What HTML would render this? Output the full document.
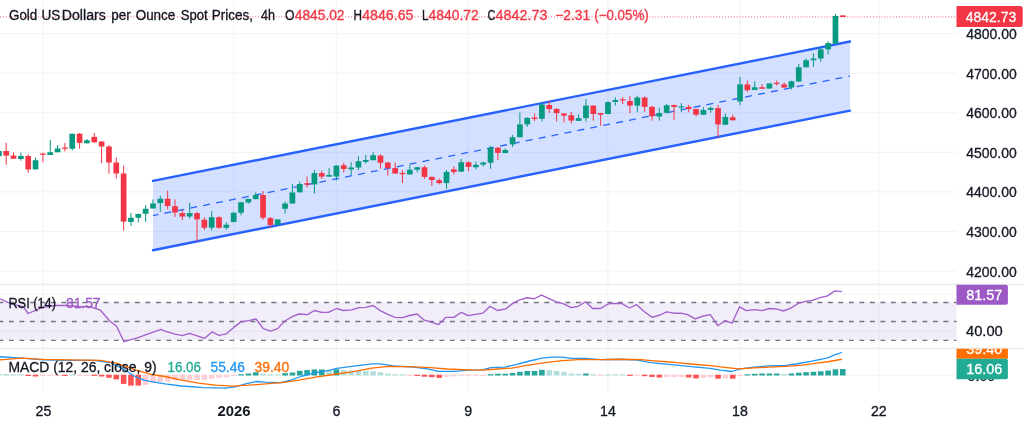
<!DOCTYPE html>
<html lang="en">
<head>
<meta charset="utf-8">
<title>Gold US Dollars per Ounce Spot Prices, 4h</title>
<style>
html,body{margin:0;padding:0;background:#fff;}
body{width:1024px;height:424px;overflow:hidden;}
svg{display:block;}
svg text{font-family:"Liberation Sans","DejaVu Sans",sans-serif;font-size:14px;color:#131722;fill:currentColor;stroke:currentColor;stroke-width:0.3px;}
</style>
</head>
<body>
<svg width="1024" height="424" viewBox="0 0 1024 424">
<rect x="0" y="0" width="1024" height="424" fill="#ffffff"/>
<!-- grid -->
<rect x="0" y="33.00" width="956.5" height="1.2" fill="#f3f5f5"/>
<rect x="0" y="72.60" width="956.5" height="1.2" fill="#f3f5f5"/>
<rect x="0" y="112.10" width="956.5" height="1.2" fill="#f3f5f5"/>
<rect x="0" y="151.70" width="956.5" height="1.2" fill="#f3f5f5"/>
<rect x="0" y="191.30" width="956.5" height="1.2" fill="#f3f5f5"/>
<rect x="0" y="230.90" width="956.5" height="1.2" fill="#f3f5f5"/>
<rect x="0" y="270.50" width="956.5" height="1.2" fill="#f3f5f5"/>
<rect x="0" y="293.70" width="956.5" height="1.2" fill="#f3f5f5"/>
<rect x="0" y="330.50" width="956.5" height="1.2" fill="#f3f5f5"/>
<rect x="0" y="374.70" width="956.5" height="1.2" fill="#f3f5f5"/>
<rect x="42.70" y="0" width="1.2" height="392.5" fill="#f3f5f5"/>
<rect x="233.00" y="0" width="1.2" height="392.5" fill="#f3f5f5"/>
<rect x="335.60" y="0" width="1.2" height="392.5" fill="#f3f5f5"/>
<rect x="467.60" y="0" width="1.2" height="392.5" fill="#f3f5f5"/>
<rect x="607.30" y="0" width="1.2" height="392.5" fill="#f3f5f5"/>
<rect x="739.20" y="0" width="1.2" height="392.5" fill="#f3f5f5"/>
<rect x="878.50" y="0" width="1.2" height="392.5" fill="#f3f5f5"/>
<!-- pane separators -->
<rect x="0" y="283.7" width="1024" height="1" fill="#e0e3eb"/>
<rect x="0" y="347.7" width="1024" height="1" fill="#e0e3eb"/>
<!-- channel -->
<polygon points="153,180.9 850,41.5 850,110.6 153,250.2" fill="#2962ff" fill-opacity="0.2"/>
<line x1="153" y1="215.55" x2="850" y2="76.05" stroke="#2962ff" stroke-width="1.3" stroke-dasharray="7 6.16" stroke-dashoffset="1.5"/>
<line x1="153" y1="180.9" x2="850" y2="41.5" stroke="#2962ff" stroke-width="2.4" stroke-linecap="round"/>
<line x1="153" y1="250.2" x2="850" y2="110.6" stroke="#2962ff" stroke-width="2.4" stroke-linecap="round"/>
<!-- last price dotted line -->
<line x1="0" y1="16.9" x2="956.5" y2="16.9" stroke="#f23645" stroke-opacity="0.8" stroke-width="1" stroke-dasharray="1 1.9"/>
<!-- candles -->
<rect x="-1.64" y="151.00" width="1" height="5.25" fill="#089981"/><rect x="-3.99" y="151.00" width="5.7" height="5.25" fill="#089981"/>
<rect x="5.70" y="142.90" width="1" height="21.85" fill="#f23645"/><rect x="3.35" y="151.00" width="5.7" height="4.60" fill="#f23645"/>
<rect x="13.04" y="152.25" width="1" height="6.75" fill="#f23645"/><rect x="10.69" y="155.60" width="5.7" height="3.15" fill="#f23645"/>
<rect x="20.38" y="152.50" width="1" height="8.10" fill="#089981"/><rect x="18.03" y="156.00" width="5.7" height="3.00" fill="#089981"/>
<rect x="27.72" y="154.40" width="1" height="18.35" fill="#f23645"/><rect x="25.37" y="156.00" width="5.7" height="13.40" fill="#f23645"/>
<rect x="35.05" y="157.50" width="1" height="11.90" fill="#089981"/><rect x="32.70" y="160.25" width="5.7" height="9.15" fill="#089981"/>
<rect x="42.39" y="152.75" width="1" height="9.50" fill="#f23645"/><rect x="40.04" y="153.50" width="5.7" height="1.25" fill="#f23645"/>
<rect x="49.73" y="140.00" width="1" height="15.00" fill="#089981"/><rect x="47.38" y="152.25" width="5.7" height="2.75" fill="#089981"/>
<rect x="57.07" y="145.00" width="1" height="7.25" fill="#089981"/><rect x="54.72" y="148.50" width="5.7" height="3.75" fill="#089981"/>
<rect x="64.41" y="143.00" width="1" height="8.50" fill="#f23645"/><rect x="62.06" y="147.50" width="5.7" height="1.25" fill="#f23645"/>
<rect x="71.75" y="133.75" width="1" height="16.65" fill="#089981"/><rect x="69.40" y="133.75" width="5.7" height="15.00" fill="#089981"/>
<rect x="79.08" y="133.00" width="1" height="15.75" fill="#f23645"/><rect x="76.73" y="133.75" width="5.7" height="9.15" fill="#f23645"/>
<rect x="86.42" y="139.00" width="1" height="4.50" fill="#089981"/><rect x="84.07" y="140.25" width="5.7" height="3.00" fill="#089981"/>
<rect x="93.76" y="133.00" width="1" height="9.90" fill="#f23645"/><rect x="91.41" y="136.90" width="5.7" height="5.35" fill="#f23645"/>
<rect x="101.10" y="141.25" width="1" height="21.85" fill="#f23645"/><rect x="98.75" y="141.50" width="5.7" height="5.00" fill="#f23645"/>
<rect x="108.44" y="145.00" width="1" height="28.75" fill="#f23645"/><rect x="106.09" y="146.50" width="5.7" height="16.00" fill="#f23645"/>
<rect x="115.78" y="157.50" width="1" height="21.00" fill="#f23645"/><rect x="113.43" y="162.50" width="5.7" height="11.00" fill="#f23645"/>
<rect x="123.12" y="165.60" width="1" height="65.00" fill="#f23645"/><rect x="120.77" y="173.50" width="5.7" height="48.10" fill="#f23645"/>
<rect x="130.45" y="213.10" width="1" height="12.90" fill="#089981"/><rect x="128.10" y="217.75" width="5.7" height="4.15" fill="#089981"/>
<rect x="137.79" y="213.50" width="1" height="9.00" fill="#089981"/><rect x="135.44" y="214.00" width="5.7" height="3.75" fill="#089981"/>
<rect x="145.13" y="205.00" width="1" height="16.90" fill="#089981"/><rect x="142.78" y="208.75" width="5.7" height="5.00" fill="#089981"/>
<rect x="152.47" y="199.40" width="1" height="9.10" fill="#089981"/><rect x="150.12" y="203.50" width="5.7" height="5.00" fill="#089981"/>
<rect x="159.81" y="195.60" width="1" height="16.30" fill="#089981"/><rect x="157.46" y="198.75" width="5.7" height="4.35" fill="#089981"/>
<rect x="167.15" y="190.60" width="1" height="18.80" fill="#f23645"/><rect x="164.80" y="198.75" width="5.7" height="7.25" fill="#f23645"/>
<rect x="174.49" y="199.40" width="1" height="17.50" fill="#f23645"/><rect x="172.14" y="206.25" width="5.7" height="6.25" fill="#f23645"/>
<rect x="181.82" y="209.75" width="1" height="10.25" fill="#f23645"/><rect x="179.47" y="213.10" width="5.7" height="3.40" fill="#f23645"/>
<rect x="189.16" y="202.75" width="1" height="15.75" fill="#089981"/><rect x="186.81" y="213.10" width="5.7" height="3.40" fill="#089981"/>
<rect x="196.50" y="211.90" width="1" height="29.60" fill="#f23645"/><rect x="194.15" y="213.10" width="5.7" height="6.30" fill="#f23645"/>
<rect x="203.84" y="217.25" width="1" height="12.75" fill="#f23645"/><rect x="201.49" y="219.75" width="5.7" height="8.00" fill="#f23645"/>
<rect x="211.18" y="211.00" width="1" height="19.60" fill="#089981"/><rect x="208.83" y="217.25" width="5.7" height="10.50" fill="#089981"/>
<rect x="218.52" y="216.25" width="1" height="12.50" fill="#f23645"/><rect x="216.17" y="217.25" width="5.7" height="10.50" fill="#f23645"/>
<rect x="225.85" y="222.25" width="1" height="7.50" fill="#089981"/><rect x="223.50" y="224.75" width="5.7" height="3.00" fill="#089981"/>
<rect x="233.19" y="211.90" width="1" height="10.35" fill="#089981"/><rect x="230.84" y="212.75" width="5.7" height="9.25" fill="#089981"/>
<rect x="240.53" y="201.90" width="1" height="13.35" fill="#089981"/><rect x="238.18" y="202.25" width="5.7" height="10.50" fill="#089981"/>
<rect x="247.87" y="198.75" width="1" height="4.75" fill="#089981"/><rect x="245.52" y="199.00" width="5.7" height="3.50" fill="#089981"/>
<rect x="255.21" y="192.50" width="1" height="6.90" fill="#089981"/><rect x="252.86" y="195.00" width="5.7" height="4.10" fill="#089981"/>
<rect x="262.55" y="191.00" width="1" height="28.75" fill="#f23645"/><rect x="260.20" y="195.00" width="5.7" height="22.75" fill="#f23645"/>
<rect x="269.89" y="216.90" width="1" height="11.20" fill="#f23645"/><rect x="267.54" y="218.10" width="5.7" height="6.90" fill="#f23645"/>
<rect x="277.22" y="219.40" width="1" height="5.60" fill="#089981"/><rect x="274.87" y="219.40" width="5.7" height="5.60" fill="#089981"/>
<rect x="284.56" y="201.50" width="1" height="12.00" fill="#089981"/><rect x="282.21" y="203.50" width="5.7" height="5.25" fill="#089981"/>
<rect x="291.90" y="184.00" width="1" height="19.50" fill="#089981"/><rect x="289.55" y="192.50" width="5.7" height="11.00" fill="#089981"/>
<rect x="299.24" y="181.50" width="1" height="11.25" fill="#089981"/><rect x="296.89" y="184.00" width="5.7" height="8.25" fill="#089981"/>
<rect x="306.58" y="176.50" width="1" height="11.00" fill="#f23645"/><rect x="304.23" y="183.10" width="5.7" height="1.65" fill="#f23645"/>
<rect x="313.92" y="170.00" width="1" height="23.50" fill="#089981"/><rect x="311.57" y="173.10" width="5.7" height="11.30" fill="#089981"/>
<rect x="321.26" y="170.60" width="1" height="8.40" fill="#f23645"/><rect x="318.91" y="173.10" width="5.7" height="3.50" fill="#f23645"/>
<rect x="328.59" y="168.10" width="1" height="8.80" fill="#089981"/><rect x="326.24" y="175.00" width="5.7" height="1.60" fill="#089981"/>
<rect x="335.93" y="165.25" width="1" height="15.35" fill="#089981"/><rect x="333.58" y="165.60" width="5.7" height="10.90" fill="#089981"/>
<rect x="343.27" y="162.75" width="1" height="9.75" fill="#f23645"/><rect x="340.92" y="165.25" width="5.7" height="3.75" fill="#f23645"/>
<rect x="350.61" y="162.25" width="1" height="12.75" fill="#089981"/><rect x="348.26" y="167.50" width="5.7" height="1.90" fill="#089981"/>
<rect x="357.95" y="156.25" width="1" height="14.00" fill="#089981"/><rect x="355.60" y="161.25" width="5.7" height="6.25" fill="#089981"/>
<rect x="365.29" y="155.00" width="1" height="8.50" fill="#089981"/><rect x="362.94" y="160.00" width="5.7" height="1.90" fill="#089981"/>
<rect x="372.62" y="152.25" width="1" height="8.00" fill="#089981"/><rect x="370.27" y="155.25" width="5.7" height="5.00" fill="#089981"/>
<rect x="379.96" y="154.40" width="1" height="14.35" fill="#f23645"/><rect x="377.61" y="155.60" width="5.7" height="7.15" fill="#f23645"/>
<rect x="387.30" y="162.25" width="1" height="13.35" fill="#f23645"/><rect x="384.95" y="162.50" width="5.7" height="5.60" fill="#f23645"/>
<rect x="394.64" y="162.50" width="1" height="11.25" fill="#f23645"/><rect x="392.29" y="168.10" width="5.7" height="5.40" fill="#f23645"/>
<rect x="401.98" y="170.00" width="1" height="13.10" fill="#f23645"/><rect x="399.63" y="172.90" width="5.7" height="1.30" fill="#f23645"/>
<rect x="409.32" y="165.00" width="1" height="9.75" fill="#089981"/><rect x="406.97" y="169.75" width="5.7" height="4.65" fill="#089981"/>
<rect x="416.66" y="166.90" width="1" height="5.35" fill="#089981"/><rect x="414.31" y="167.25" width="5.7" height="2.50" fill="#089981"/>
<rect x="423.99" y="165.60" width="1" height="13.15" fill="#f23645"/><rect x="421.64" y="167.25" width="5.7" height="9.65" fill="#f23645"/>
<rect x="431.33" y="176.50" width="1" height="9.50" fill="#f23645"/><rect x="428.98" y="176.90" width="5.7" height="3.10" fill="#f23645"/>
<rect x="438.67" y="178.50" width="1" height="5.90" fill="#f23645"/><rect x="436.32" y="180.25" width="5.7" height="2.85" fill="#f23645"/>
<rect x="446.01" y="170.00" width="1" height="19.00" fill="#089981"/><rect x="443.66" y="171.90" width="5.7" height="11.20" fill="#089981"/>
<rect x="453.35" y="166.25" width="1" height="8.15" fill="#f23645"/><rect x="451.00" y="169.40" width="5.7" height="2.50" fill="#f23645"/>
<rect x="460.69" y="158.75" width="1" height="13.15" fill="#089981"/><rect x="458.34" y="162.25" width="5.7" height="9.35" fill="#089981"/>
<rect x="468.03" y="161.50" width="1" height="9.75" fill="#f23645"/><rect x="465.68" y="162.25" width="5.7" height="4.65" fill="#f23645"/>
<rect x="475.36" y="161.50" width="1" height="7.90" fill="#089981"/><rect x="473.01" y="164.75" width="5.7" height="2.50" fill="#089981"/>
<rect x="482.70" y="161.50" width="1" height="5.10" fill="#089981"/><rect x="480.35" y="162.50" width="5.7" height="2.10" fill="#089981"/>
<rect x="490.04" y="145.60" width="1" height="23.15" fill="#089981"/><rect x="487.69" y="147.75" width="5.7" height="15.00" fill="#089981"/>
<rect x="497.38" y="146.90" width="1" height="13.10" fill="#f23645"/><rect x="495.03" y="147.75" width="5.7" height="5.15" fill="#f23645"/>
<rect x="504.72" y="148.50" width="1" height="4.60" fill="#089981"/><rect x="502.37" y="150.00" width="5.7" height="3.10" fill="#089981"/>
<rect x="512.06" y="135.00" width="1" height="11.90" fill="#089981"/><rect x="509.71" y="137.25" width="5.7" height="7.15" fill="#089981"/>
<rect x="519.39" y="112.50" width="1" height="25.00" fill="#089981"/><rect x="517.04" y="124.40" width="5.7" height="12.85" fill="#089981"/>
<rect x="526.73" y="117.25" width="1" height="9.65" fill="#089981"/><rect x="524.38" y="117.90" width="5.7" height="6.50" fill="#089981"/>
<rect x="534.07" y="113.50" width="1" height="7.50" fill="#f23645"/><rect x="531.72" y="117.50" width="5.7" height="1.50" fill="#f23645"/>
<rect x="541.41" y="101.90" width="1" height="19.60" fill="#089981"/><rect x="539.06" y="104.40" width="5.7" height="14.35" fill="#089981"/>
<rect x="548.75" y="100.60" width="1" height="12.15" fill="#f23645"/><rect x="546.40" y="105.00" width="5.7" height="4.00" fill="#f23645"/>
<rect x="556.09" y="108.10" width="1" height="13.40" fill="#f23645"/><rect x="553.74" y="109.00" width="5.7" height="4.10" fill="#f23645"/>
<rect x="563.43" y="113.10" width="1" height="9.40" fill="#f23645"/><rect x="561.08" y="113.50" width="5.7" height="2.10" fill="#f23645"/>
<rect x="570.76" y="111.90" width="1" height="11.60" fill="#f23645"/><rect x="568.41" y="115.25" width="5.7" height="5.35" fill="#f23645"/>
<rect x="578.10" y="114.40" width="1" height="6.60" fill="#089981"/><rect x="575.75" y="118.10" width="5.7" height="2.80" fill="#089981"/>
<rect x="585.44" y="99.00" width="1" height="22.50" fill="#089981"/><rect x="583.09" y="105.60" width="5.7" height="12.50" fill="#089981"/>
<rect x="592.78" y="105.25" width="1" height="15.35" fill="#f23645"/><rect x="590.43" y="105.60" width="5.7" height="8.40" fill="#f23645"/>
<rect x="600.12" y="113.10" width="1" height="12.50" fill="#f23645"/><rect x="597.77" y="113.10" width="5.7" height="1.65" fill="#f23645"/>
<rect x="607.46" y="101.25" width="1" height="13.15" fill="#089981"/><rect x="605.11" y="102.10" width="5.7" height="11.90" fill="#089981"/>
<rect x="614.80" y="97.25" width="1" height="8.35" fill="#089981"/><rect x="612.45" y="100.00" width="5.7" height="1.90" fill="#089981"/>
<rect x="622.13" y="97.25" width="1" height="6.75" fill="#f23645"/><rect x="619.78" y="99.30" width="5.7" height="1.20" fill="#f23645"/>
<rect x="629.47" y="96.00" width="1" height="17.10" fill="#f23645"/><rect x="627.12" y="101.00" width="5.7" height="4.60" fill="#f23645"/>
<rect x="636.81" y="95.60" width="1" height="16.65" fill="#089981"/><rect x="634.46" y="97.50" width="5.7" height="8.10" fill="#089981"/>
<rect x="644.15" y="96.50" width="1" height="15.40" fill="#f23645"/><rect x="641.80" y="97.50" width="5.7" height="9.40" fill="#f23645"/>
<rect x="651.49" y="105.60" width="1" height="15.00" fill="#f23645"/><rect x="649.14" y="106.90" width="5.7" height="9.35" fill="#f23645"/>
<rect x="658.83" y="107.75" width="1" height="12.85" fill="#089981"/><rect x="656.48" y="113.10" width="5.7" height="3.40" fill="#089981"/>
<rect x="666.17" y="103.75" width="1" height="10.00" fill="#089981"/><rect x="663.82" y="105.25" width="5.7" height="7.50" fill="#089981"/>
<rect x="673.50" y="104.75" width="1" height="15.25" fill="#f23645"/><rect x="671.15" y="105.00" width="5.7" height="1.90" fill="#f23645"/>
<rect x="680.84" y="103.10" width="1" height="9.15" fill="#089981"/><rect x="678.49" y="106.25" width="5.7" height="1.25" fill="#089981"/>
<rect x="688.18" y="104.75" width="1" height="7.50" fill="#f23645"/><rect x="685.83" y="106.90" width="5.7" height="2.10" fill="#f23645"/>
<rect x="695.52" y="108.75" width="1" height="7.50" fill="#f23645"/><rect x="693.17" y="109.00" width="5.7" height="5.75" fill="#f23645"/>
<rect x="702.86" y="107.25" width="1" height="7.50" fill="#089981"/><rect x="700.51" y="110.00" width="5.7" height="4.75" fill="#089981"/>
<rect x="710.20" y="106.50" width="1" height="6.25" fill="#089981"/><rect x="707.85" y="107.90" width="5.7" height="2.10" fill="#089981"/>
<rect x="717.53" y="105.00" width="1" height="32.50" fill="#f23645"/><rect x="715.18" y="108.10" width="5.7" height="16.30" fill="#f23645"/>
<rect x="724.87" y="113.50" width="1" height="11.50" fill="#089981"/><rect x="722.52" y="116.90" width="5.7" height="7.85" fill="#089981"/>
<rect x="732.21" y="114.75" width="1" height="5.85" fill="#f23645"/><rect x="729.86" y="117.25" width="5.7" height="3.00" fill="#f23645"/>
<rect x="739.55" y="76.90" width="1" height="28.10" fill="#089981"/><rect x="737.20" y="84.40" width="5.7" height="17.10" fill="#089981"/>
<rect x="746.89" y="80.60" width="1" height="11.30" fill="#f23645"/><rect x="744.54" y="84.40" width="5.7" height="5.85" fill="#f23645"/>
<rect x="754.23" y="81.25" width="1" height="9.00" fill="#089981"/><rect x="751.88" y="87.25" width="5.7" height="2.75" fill="#089981"/>
<rect x="761.57" y="84.00" width="1" height="4.75" fill="#f23645"/><rect x="759.22" y="87.25" width="5.7" height="1.50" fill="#f23645"/>
<rect x="768.90" y="83.10" width="1" height="5.65" fill="#089981"/><rect x="766.55" y="83.50" width="5.7" height="5.00" fill="#089981"/>
<rect x="776.24" y="80.60" width="1" height="5.00" fill="#f23645"/><rect x="773.89" y="82.75" width="5.7" height="1.25" fill="#f23645"/>
<rect x="783.58" y="82.25" width="1" height="5.50" fill="#f23645"/><rect x="781.23" y="84.40" width="5.7" height="3.10" fill="#f23645"/>
<rect x="790.92" y="80.60" width="1" height="8.80" fill="#089981"/><rect x="788.57" y="81.25" width="5.7" height="6.25" fill="#089981"/>
<rect x="798.26" y="64.00" width="1" height="17.90" fill="#089981"/><rect x="795.91" y="67.25" width="5.7" height="14.25" fill="#089981"/>
<rect x="805.60" y="58.50" width="1" height="9.00" fill="#089981"/><rect x="803.25" y="60.25" width="5.7" height="7.00" fill="#089981"/>
<rect x="812.94" y="53.10" width="1" height="13.80" fill="#089981"/><rect x="810.59" y="58.50" width="5.7" height="1.75" fill="#089981"/>
<rect x="820.27" y="47.50" width="1" height="14.40" fill="#089981"/><rect x="817.92" y="49.40" width="5.7" height="9.10" fill="#089981"/>
<rect x="827.61" y="41.25" width="1" height="13.15" fill="#089981"/><rect x="825.26" y="43.10" width="5.7" height="6.30" fill="#089981"/>
<rect x="834.95" y="14.00" width="1" height="29.75" fill="#089981"/><rect x="832.60" y="16.00" width="5.7" height="27.75" fill="#089981"/>
<rect x="842.29" y="15.50" width="1" height="1.50" fill="#f23645"/><rect x="839.94" y="15.40" width="5.7" height="1.60" fill="#f23645"/>
<!-- RSI -->
<rect x="0" y="302.3" width="956.5" height="37.7" fill="#7e57c2" fill-opacity="0.1"/>
<g stroke="#73767f" stroke-width="1.3" stroke-dasharray="4.9 5.6">
<line x1="-1.6" y1="302.5" x2="956.5" y2="302.5"/>
<line x1="-1.6" y1="321.5" x2="956.5" y2="321.5"/>
<line x1="-1.6" y1="340.4" x2="956.5" y2="340.4"/>
</g>
<polyline points="0.00,298.80 8.40,302.60 16.75,305.10 23.50,306.80 28.10,313.50 41.90,307.60 55.30,305.50 67.00,305.50 78.70,306.50 90.50,306.80 100.50,310.20 109.70,321.00 116.40,326.00 124.00,341.60 137.40,337.80 160.80,329.40 165.00,331.10 174.20,333.90 182.25,335.60 189.60,333.30 204.70,338.30 211.90,331.90 219.10,335.30 226.10,333.90 233.70,327.40 240.90,321.90 248.75,320.70 256.00,319.00 263.30,328.60 270.50,331.10 277.60,328.60 284.75,321.00 291.80,316.85 299.00,314.00 307.40,314.70 314.60,310.50 321.60,312.30 328.30,312.30 336.40,308.50 343.40,310.50 351.80,309.80 358.80,307.60 366.00,307.30 373.00,305.50 380.25,310.65 387.80,314.30 395.00,317.35 402.40,317.70 409.60,315.50 417.10,314.00 424.30,320.20 431.30,322.20 438.50,324.55 445.90,317.35 454.00,317.35 461.20,312.30 468.20,315.70 475.40,314.30 482.80,313.20 490.00,306.30 497.50,310.50 505.90,308.80 513.10,303.10 519.80,299.80 526.80,297.75 534.40,298.75 541.40,295.10 548.60,298.40 556.10,301.80 563.70,303.80 571.20,307.60 578.25,306.30 585.50,301.80 592.70,308.50 600.50,308.50 608.40,303.95 614.80,303.45 621.50,303.45 629.50,308.00 636.50,304.60 644.10,311.50 652.10,317.35 660.00,315.00 666.70,311.80 673.70,313.20 680.90,313.20 687.60,314.70 695.20,318.85 703.20,316.00 710.25,314.70 717.80,325.70 725.00,320.70 732.00,323.20 739.60,306.80 746.30,310.65 754.60,309.65 762.20,310.65 769.40,308.50 776.10,308.80 783.50,311.00 790.70,308.10 798.20,303.45 805.70,301.30 812.40,300.40 820.00,297.60 827.50,295.90 834.80,290.90 841.90,291.70" fill="none" stroke="#a35fcc" stroke-width="1.35" stroke-linejoin="round"/>
<!-- MACD -->
<g clip-path="url(#macdclip)">
<rect x="-3.94" y="374.00" width="5.6" height="1.50" fill="#b2dfdb"/>
<rect x="3.40" y="374.00" width="5.6" height="1.50" fill="#b2dfdb"/>
<rect x="10.74" y="374.30" width="5.6" height="1.20" fill="#b2dfdb"/>
<rect x="18.08" y="374.30" width="5.6" height="1.20" fill="#b2dfdb"/>
<rect x="25.42" y="374.70" width="5.6" height="1.30" fill="#ff5252"/>
<rect x="32.75" y="374.70" width="5.6" height="1.80" fill="#ff5252"/>
<rect x="40.09" y="374.70" width="5.6" height="1.20" fill="#ffcdd2"/>
<rect x="47.43" y="374.70" width="5.6" height="1.20" fill="#ffcdd2"/>
<rect x="54.77" y="374.70" width="5.6" height="1.20" fill="#ffcdd2"/>
<rect x="62.11" y="374.70" width="5.6" height="1.20" fill="#ff5252"/>
<rect x="69.45" y="374.30" width="5.6" height="1.20" fill="#b2dfdb"/>
<rect x="76.78" y="374.70" width="5.6" height="1.20" fill="#ffcdd2"/>
<rect x="84.12" y="374.70" width="5.6" height="1.20" fill="#ffcdd2"/>
<rect x="91.46" y="374.70" width="5.6" height="1.20" fill="#ff5252"/>
<rect x="98.80" y="374.70" width="5.6" height="1.80" fill="#ff5252"/>
<rect x="106.14" y="374.70" width="5.6" height="3.00" fill="#ff5252"/>
<rect x="113.48" y="374.70" width="5.6" height="4.70" fill="#ff5252"/>
<rect x="120.82" y="374.70" width="5.6" height="9.20" fill="#ff5252"/>
<rect x="128.15" y="374.70" width="5.6" height="10.90" fill="#ff5252"/>
<rect x="135.49" y="374.70" width="5.6" height="10.90" fill="#ff5252"/>
<rect x="142.83" y="374.70" width="5.6" height="10.20" fill="#ffcdd2"/>
<rect x="150.17" y="374.70" width="5.6" height="8.00" fill="#ffcdd2"/>
<rect x="157.51" y="374.70" width="5.6" height="7.20" fill="#ffcdd2"/>
<rect x="164.85" y="374.70" width="5.6" height="6.90" fill="#ffcdd2"/>
<rect x="172.19" y="374.70" width="5.6" height="5.90" fill="#ffcdd2"/>
<rect x="179.52" y="374.70" width="5.6" height="5.20" fill="#ffcdd2"/>
<rect x="186.86" y="374.70" width="5.6" height="5.20" fill="#ffcdd2"/>
<rect x="194.20" y="374.70" width="5.6" height="5.20" fill="#ffcdd2"/>
<rect x="201.54" y="374.70" width="5.6" height="5.00" fill="#ffcdd2"/>
<rect x="208.88" y="374.70" width="5.6" height="3.90" fill="#ffcdd2"/>
<rect x="216.22" y="374.70" width="5.6" height="3.00" fill="#ffcdd2"/>
<rect x="223.55" y="374.70" width="5.6" height="2.50" fill="#ffcdd2"/>
<rect x="230.89" y="374.70" width="5.6" height="1.30" fill="#ffcdd2"/>
<rect x="238.23" y="374.20" width="5.6" height="1.30" fill="#26a69a"/>
<rect x="245.57" y="373.50" width="5.6" height="2.00" fill="#26a69a"/>
<rect x="252.91" y="372.30" width="5.6" height="3.20" fill="#26a69a"/>
<rect x="260.25" y="373.50" width="5.6" height="2.00" fill="#b2dfdb"/>
<rect x="267.59" y="374.30" width="5.6" height="1.20" fill="#b2dfdb"/>
<rect x="274.92" y="374.30" width="5.6" height="1.20" fill="#b2dfdb"/>
<rect x="282.26" y="373.20" width="5.6" height="2.30" fill="#26a69a"/>
<rect x="289.60" y="372.50" width="5.6" height="3.00" fill="#26a69a"/>
<rect x="296.94" y="370.80" width="5.6" height="4.70" fill="#26a69a"/>
<rect x="304.28" y="370.00" width="5.6" height="5.50" fill="#26a69a"/>
<rect x="311.62" y="369.50" width="5.6" height="6.00" fill="#26a69a"/>
<rect x="318.96" y="369.50" width="5.6" height="6.00" fill="#26a69a"/>
<rect x="326.29" y="370.00" width="5.6" height="5.50" fill="#b2dfdb"/>
<rect x="333.63" y="369.30" width="5.6" height="6.20" fill="#26a69a"/>
<rect x="340.97" y="370.10" width="5.6" height="5.40" fill="#b2dfdb"/>
<rect x="348.31" y="370.50" width="5.6" height="5.00" fill="#b2dfdb"/>
<rect x="355.65" y="370.80" width="5.6" height="4.70" fill="#b2dfdb"/>
<rect x="362.99" y="370.80" width="5.6" height="4.70" fill="#b2dfdb"/>
<rect x="370.32" y="371.30" width="5.6" height="4.20" fill="#b2dfdb"/>
<rect x="377.66" y="372.20" width="5.6" height="3.30" fill="#b2dfdb"/>
<rect x="385.00" y="373.50" width="5.6" height="2.00" fill="#b2dfdb"/>
<rect x="392.34" y="374.30" width="5.6" height="1.20" fill="#b2dfdb"/>
<rect x="399.68" y="374.30" width="5.6" height="1.20" fill="#b2dfdb"/>
<rect x="407.02" y="374.70" width="5.6" height="1.20" fill="#ffcdd2"/>
<rect x="414.36" y="374.70" width="5.6" height="1.20" fill="#ff5252"/>
<rect x="421.69" y="374.70" width="5.6" height="2.00" fill="#ff5252"/>
<rect x="429.03" y="374.70" width="5.6" height="2.50" fill="#ff5252"/>
<rect x="436.37" y="374.70" width="5.6" height="3.20" fill="#ff5252"/>
<rect x="443.71" y="374.70" width="5.6" height="2.20" fill="#ffcdd2"/>
<rect x="451.05" y="374.70" width="5.6" height="1.70" fill="#ffcdd2"/>
<rect x="458.39" y="374.70" width="5.6" height="1.20" fill="#ffcdd2"/>
<rect x="465.73" y="374.70" width="5.6" height="1.20" fill="#ffcdd2"/>
<rect x="473.06" y="374.70" width="5.6" height="1.20" fill="#ffcdd2"/>
<rect x="480.40" y="374.70" width="5.6" height="1.20" fill="#ffcdd2"/>
<rect x="487.74" y="374.20" width="5.6" height="1.30" fill="#26a69a"/>
<rect x="495.08" y="373.70" width="5.6" height="1.80" fill="#26a69a"/>
<rect x="502.42" y="373.80" width="5.6" height="1.70" fill="#26a69a"/>
<rect x="509.76" y="373.00" width="5.6" height="2.50" fill="#26a69a"/>
<rect x="517.10" y="371.80" width="5.6" height="3.70" fill="#26a69a"/>
<rect x="524.43" y="371.00" width="5.6" height="4.50" fill="#26a69a"/>
<rect x="531.77" y="371.00" width="5.6" height="4.50" fill="#26a69a"/>
<rect x="539.11" y="369.80" width="5.6" height="5.70" fill="#26a69a"/>
<rect x="546.45" y="370.10" width="5.6" height="5.40" fill="#b2dfdb"/>
<rect x="553.79" y="371.00" width="5.6" height="4.50" fill="#b2dfdb"/>
<rect x="561.13" y="371.80" width="5.6" height="3.70" fill="#b2dfdb"/>
<rect x="568.46" y="373.50" width="5.6" height="2.00" fill="#b2dfdb"/>
<rect x="575.80" y="373.80" width="5.6" height="1.70" fill="#b2dfdb"/>
<rect x="583.14" y="373.50" width="5.6" height="2.00" fill="#26a69a"/>
<rect x="590.48" y="374.30" width="5.6" height="1.20" fill="#b2dfdb"/>
<rect x="597.82" y="374.70" width="5.6" height="1.20" fill="#ffcdd2"/>
<rect x="605.16" y="374.30" width="5.6" height="1.20" fill="#b2dfdb"/>
<rect x="612.50" y="374.30" width="5.6" height="1.20" fill="#b2dfdb"/>
<rect x="619.83" y="374.30" width="5.6" height="1.20" fill="#b2dfdb"/>
<rect x="627.17" y="374.70" width="5.6" height="1.20" fill="#ff5252"/>
<rect x="634.51" y="374.70" width="5.6" height="1.20" fill="#ffcdd2"/>
<rect x="641.85" y="374.70" width="5.6" height="1.50" fill="#ff5252"/>
<rect x="649.19" y="374.70" width="5.6" height="2.20" fill="#ff5252"/>
<rect x="656.53" y="374.70" width="5.6" height="2.80" fill="#ff5252"/>
<rect x="663.87" y="374.70" width="5.6" height="2.50" fill="#ffcdd2"/>
<rect x="671.20" y="374.70" width="5.6" height="2.50" fill="#ffcdd2"/>
<rect x="678.54" y="374.70" width="5.6" height="2.50" fill="#ffcdd2"/>
<rect x="685.88" y="374.70" width="5.6" height="2.80" fill="#ff5252"/>
<rect x="693.22" y="374.70" width="5.6" height="3.70" fill="#ff5252"/>
<rect x="700.56" y="374.70" width="5.6" height="3.20" fill="#ffcdd2"/>
<rect x="707.90" y="374.70" width="5.6" height="2.50" fill="#ffcdd2"/>
<rect x="715.23" y="374.70" width="5.6" height="4.00" fill="#ff5252"/>
<rect x="722.57" y="374.70" width="5.6" height="3.70" fill="#ffcdd2"/>
<rect x="729.91" y="374.70" width="5.6" height="4.00" fill="#ff5252"/>
<rect x="737.25" y="374.70" width="5.6" height="1.50" fill="#ffcdd2"/>
<rect x="744.59" y="374.30" width="5.6" height="1.20" fill="#26a69a"/>
<rect x="751.93" y="373.80" width="5.6" height="1.70" fill="#26a69a"/>
<rect x="759.27" y="373.50" width="5.6" height="2.00" fill="#26a69a"/>
<rect x="766.60" y="373.50" width="5.6" height="2.00" fill="#26a69a"/>
<rect x="773.94" y="373.50" width="5.6" height="2.00" fill="#26a69a"/>
<rect x="781.28" y="374.00" width="5.6" height="1.50" fill="#b2dfdb"/>
<rect x="788.62" y="373.50" width="5.6" height="2.00" fill="#26a69a"/>
<rect x="795.96" y="372.70" width="5.6" height="2.80" fill="#26a69a"/>
<rect x="803.30" y="372.20" width="5.6" height="3.30" fill="#26a69a"/>
<rect x="810.64" y="371.80" width="5.6" height="3.70" fill="#26a69a"/>
<rect x="817.97" y="371.30" width="5.6" height="4.20" fill="#26a69a"/>
<rect x="825.31" y="370.60" width="5.6" height="4.90" fill="#26a69a"/>
<rect x="832.65" y="369.30" width="5.6" height="6.20" fill="#26a69a"/>
<rect x="839.99" y="369.00" width="5.6" height="6.50" fill="#26a69a"/>
<polyline points="0.00,356.75 21.80,358.10 43.50,359.80 67.00,360.40 93.80,360.40 110.50,362.60 124.00,369.30 134.00,376.00 144.00,380.20 154.00,382.20 165.00,383.90 181.75,386.00 203.50,387.70 225.30,388.20 235.40,386.90 245.40,383.90 256.30,381.50 265.50,382.20 280.60,382.70 290.60,380.20 302.40,376.00 315.75,372.70 330.00,370.10 336.70,368.45 351.80,366.40 371.90,363.90 380.25,363.90 393.65,365.90 413.75,367.10 427.15,368.80 438.90,371.30 454.00,371.30 469.00,370.10 482.40,369.80 490.80,367.60 505.00,367.10 515.10,364.80 528.50,361.25 541.90,358.10 551.95,357.10 562.00,357.10 572.05,358.40 585.45,358.40 600.50,359.70 620.60,359.25 637.40,360.10 650.80,362.60 660.00,363.60 676.75,365.10 693.50,366.80 710.25,368.45 720.30,370.10 732.00,371.50 740.40,368.80 753.80,367.10 768.90,365.90 785.60,365.40 797.35,363.75 810.75,361.40 824.15,358.70 827.60,357.90 835.20,354.70 841.90,352.50" fill="none" stroke="#2196f3" stroke-width="1.3" stroke-linejoin="round"/>
<polyline points="0.00,359.80 21.80,358.10 43.50,359.30 70.30,359.80 100.50,360.40 117.25,363.45 134.00,369.30 150.75,374.30 165.00,376.50 181.75,380.20 198.50,383.20 215.25,385.20 232.00,386.10 248.75,385.20 265.50,383.90 282.25,382.70 299.00,380.20 315.75,377.20 330.00,375.00 336.70,374.00 351.80,371.80 371.90,368.10 388.60,366.40 413.75,366.80 430.50,367.60 447.25,369.00 469.00,369.80 482.40,370.10 490.80,369.50 511.75,368.10 528.50,365.10 545.25,362.60 562.00,360.60 578.75,359.70 600.50,359.70 620.60,359.25 640.70,359.70 654.10,360.90 666.00,361.75 676.75,362.60 693.50,364.25 710.25,365.60 727.00,367.60 738.70,368.80 753.80,367.95 768.90,367.10 785.60,366.40 802.40,365.10 819.10,362.90 827.60,361.75 841.90,359.25" fill="none" stroke="#ff6d00" stroke-width="1.3" stroke-linejoin="round"/>
</g>
<defs><clipPath id="macdclip"><rect x="0" y="348.7" width="956.5" height="44"/></clipPath>
<clipPath id="macdaxis"><rect x="956" y="348.7" width="68" height="44"/></clipPath></defs>
<!-- price axis -->
<text x="966.2" y="39.00" textLength="50.5" lengthAdjust="spacingAndGlyphs">4800.00</text>
<text x="966.2" y="78.60" textLength="50.5" lengthAdjust="spacingAndGlyphs">4700.00</text>
<text x="966.2" y="118.10" textLength="50.5" lengthAdjust="spacingAndGlyphs">4600.00</text>
<text x="966.2" y="157.70" textLength="50.5" lengthAdjust="spacingAndGlyphs">4500.00</text>
<text x="966.2" y="197.30" textLength="50.5" lengthAdjust="spacingAndGlyphs">4400.00</text>
<text x="966.2" y="236.90" textLength="50.5" lengthAdjust="spacingAndGlyphs">4300.00</text>
<text x="966.2" y="276.50" textLength="50.5" lengthAdjust="spacingAndGlyphs">4200.00</text>
<text x="966.0" y="336.0" textLength="36.8" lengthAdjust="spacingAndGlyphs">40.00</text>
<g clip-path="url(#macdaxis)">
<text x="967.6" y="380.5" textLength="27.5" lengthAdjust="spacingAndGlyphs">0.00</text>
<path d="M956.5 340 H1005.9 a2 2 0 0 1 2 2 V358.8 H956.5 Z" fill="#ff6d00"/>
<text x="966.2" y="353.6" textLength="36.2" lengthAdjust="spacingAndGlyphs" style="color:#fff">39.40</text>
<path d="M956.5 358.8 H1005.9 a2 2 0 0 1 2 2 V377.2 a2 2 0 0 1 -2 2 H956.5 Z" fill="#22ab94"/>
<text x="966.2" y="374.1" textLength="36.2" lengthAdjust="spacingAndGlyphs" style="color:#fff">16.06</text>
</g>
<path d="M956.5 284.7 H1005.9 a2 2 0 0 1 2 2 V302.8 a2 2 0 0 1 -2 2 H956.5 Z" fill="#9c59c6"/>
<text x="966.2" y="299.8" textLength="36.2" lengthAdjust="spacingAndGlyphs" style="color:#fff">81.57</text>
<path d="M956.5 5.9 H1020.2 a2.5 2.5 0 0 1 2.5 2.5 V24.4 a2.5 2.5 0 0 1 -2.5 2.5 H956.5 Z" fill="#f23645"/>
<text x="965.8" y="21.9" textLength="50.4" lengthAdjust="spacingAndGlyphs" style="color:#fff">4842.73</text>
<!-- time axis -->
<text x="35.60" y="415.5" textLength="15.8" lengthAdjust="spacingAndGlyphs">25</text>
<text x="217.50" y="415.5" textLength="33" lengthAdjust="spacingAndGlyphs" font-weight="700" stroke-width="0" style="stroke-width:0">2026</text>
<text x="332.45" y="415.5" textLength="7.9" lengthAdjust="spacingAndGlyphs">6</text>
<text x="464.35" y="415.5" textLength="7.9" lengthAdjust="spacingAndGlyphs">9</text>
<text x="600.10" y="415.5" textLength="15.8" lengthAdjust="spacingAndGlyphs">14</text>
<text x="732.10" y="415.5" textLength="15.8" lengthAdjust="spacingAndGlyphs">18</text>
<text x="870.90" y="415.5" textLength="15.8" lengthAdjust="spacingAndGlyphs">22</text>
<!-- legends -->
<text x="9.0" y="20" textLength="28.3" lengthAdjust="spacingAndGlyphs">Gold</text>
<text x="41.5" y="20" textLength="18.8" lengthAdjust="spacingAndGlyphs">US</text>
<text x="61.8" y="20" textLength="44.0" lengthAdjust="spacingAndGlyphs">Dollars</text>
<text x="111.2" y="20" textLength="19.5" lengthAdjust="spacingAndGlyphs">per</text>
<text x="135.7" y="20" textLength="39.6" lengthAdjust="spacingAndGlyphs">Ounce</text>
<text x="180.7" y="20" textLength="27.0" lengthAdjust="spacingAndGlyphs">Spot</text>
<text x="211.8" y="20" textLength="41.2" lengthAdjust="spacingAndGlyphs">Prices,</text>
<text x="261" y="20" textLength="14" lengthAdjust="spacingAndGlyphs">4h</text>
<text x="285" y="20" textLength="9.5" lengthAdjust="spacingAndGlyphs">O</text>
<text x="294.8" y="20" textLength="49.7" lengthAdjust="spacingAndGlyphs" style="color:#f23645">4845.02</text>
<text x="353.5" y="20" textLength="8.5" lengthAdjust="spacingAndGlyphs">H</text>
<text x="362.2" y="20" textLength="51.3" lengthAdjust="spacingAndGlyphs" style="color:#f23645">4846.65</text>
<text x="422" y="20" textLength="6.5" lengthAdjust="spacingAndGlyphs">L</text>
<text x="428.6" y="20" textLength="50.2" lengthAdjust="spacingAndGlyphs" style="color:#f23645">4840.72</text>
<text x="487.5" y="20" textLength="8" lengthAdjust="spacingAndGlyphs">C</text>
<text x="495.6" y="20" textLength="51.8" lengthAdjust="spacingAndGlyphs" style="color:#f23645">4842.73</text>
<text x="555.2" y="20" textLength="35" lengthAdjust="spacingAndGlyphs" style="color:#f23645">−2.31</text>
<text x="594.2" y="20" textLength="54.6" lengthAdjust="spacingAndGlyphs" style="color:#f23645">(−0.05%)</text>
<text x="8.4" y="307.6" textLength="47.6" lengthAdjust="spacingAndGlyphs">RSI (14)</text>
<text x="66" y="307.6" textLength="34.5" lengthAdjust="spacingAndGlyphs" style="color:#9c59c6">81.57</text>
<text x="8.4" y="372.2" textLength="148.2" lengthAdjust="spacingAndGlyphs">MACD (12, 26, close, 9)</text>
<text x="167.5" y="372.2" textLength="33.5" lengthAdjust="spacingAndGlyphs" style="color:#22ab94">16.06</text>
<text x="210.6" y="372.2" textLength="34.4" lengthAdjust="spacingAndGlyphs" style="color:#2196f3">55.46</text>
<text x="254.6" y="372.2" textLength="34.7" lengthAdjust="spacingAndGlyphs" style="color:#ff6d00">39.40</text>
</svg>
</body>
</html>
